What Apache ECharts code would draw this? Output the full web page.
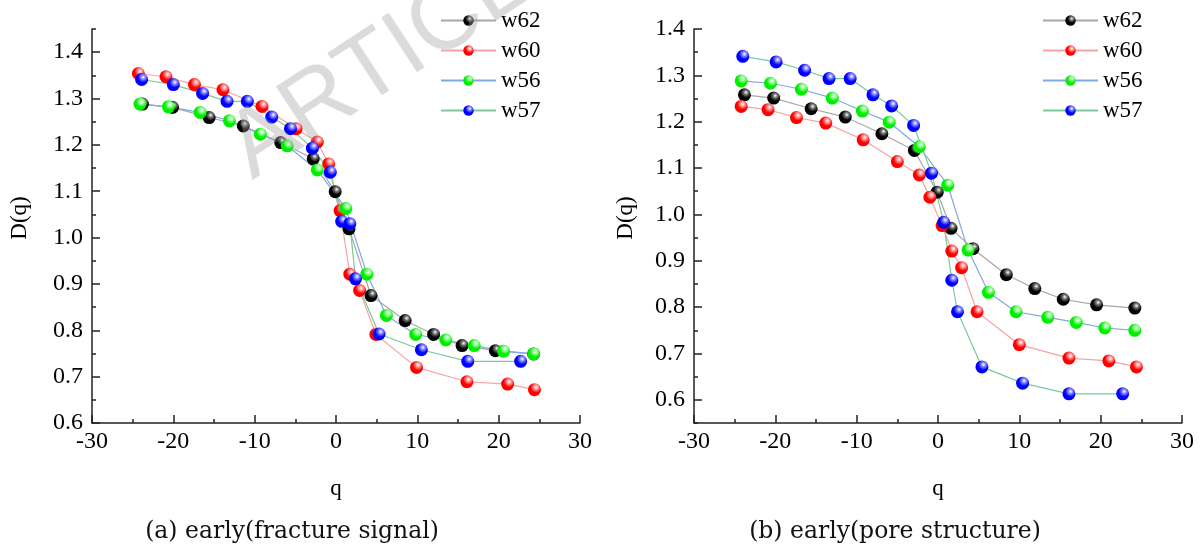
<!DOCTYPE html>
<html>
<head>
<meta charset="utf-8">
<script src="https://cdn.jsdelivr.net/npm/echarts@6/dist/echarts.min.js"></script>
<style>html,body{margin:0;padding:0;background:#fff}#c{width:1202px;height:546px}</style>
</head>
<body>
<div id="c"></div>
<script>
// ---- data: (a) early (fracture signal) ----
const seriesNames = ['w62', 'w60', 'w56', 'w57'];
const qA62 = [-23.8,-20.1,-15.6,-11.4,-6.8,-2.8,-0.1,1.6,4.3,8.5,12.0,15.5,19.6,24.3];
const dA62 = [1.288,1.281,1.259,1.241,1.205,1.170,1.099,1.019,0.875,0.821,0.791,0.767,0.756,0.749];
const qA60 = [-24.3,-20.9,-17.4,-13.9,-9.1,-4.9,-2.3,-0.9,0.5,1.7,2.9,4.9,9.9,16.1,21.1,24.4];
const dA60 = [1.354,1.347,1.330,1.319,1.283,1.235,1.206,1.159,1.058,0.921,0.886,0.791,0.720,0.689,0.684,0.672];
const qA56 = [-24.1,-20.6,-16.7,-13.1,-9.3,-6.0,-2.3,1.2,3.8,6.2,9.8,13.5,17.0,20.6,24.3];
const dA56 = [1.288,1.282,1.270,1.252,1.223,1.198,1.146,1.063,0.921,0.832,0.791,0.779,0.767,0.755,0.749];
const qA57 = [-23.9,-20.0,-16.4,-13.4,-10.9,-7.9,-5.6,-2.9,-0.7,0.7,1.7,2.4,5.3,10.5,16.2,22.7];
const dA57 = [1.341,1.330,1.311,1.294,1.294,1.260,1.235,1.193,1.141,1.035,1.030,0.911,0.792,0.758,0.733,0.733];

// ---- data: (b) early (pore structure) ----
const qB62 = [-23.8,-20.2,-15.6,-11.4,-6.9,-2.9,-0.1,1.6,4.3,8.4,11.9,15.4,19.5,24.2];
const dB62 = [1.258,1.251,1.228,1.210,1.174,1.138,1.048,0.970,0.926,0.870,0.840,0.817,0.805,0.798];
const qB60 = [-24.2,-20.9,-17.4,-13.8,-9.2,-5.0,-2.3,-1.0,0.5,1.7,2.9,4.8,10.0,16.1,21.0,24.4];
const dB60 = [1.233,1.226,1.209,1.197,1.161,1.114,1.085,1.037,0.976,0.921,0.885,0.790,0.719,0.690,0.684,0.671];
const qB56 = [-24.2,-20.6,-16.8,-13.0,-9.3,-6.0,-2.3,1.2,3.7,6.2,9.6,13.5,17.0,20.5,24.2];
const dB56 = [1.288,1.283,1.270,1.251,1.223,1.199,1.146,1.063,0.923,0.832,0.790,0.778,0.767,0.755,0.750];
const qB57 = [-24.0,-19.9,-16.4,-13.4,-10.8,-8.0,-5.7,-3.0,-0.8,0.7,1.7,2.4,5.4,10.4,16.1,22.7];
const dB57 = [1.341,1.329,1.311,1.293,1.293,1.258,1.234,1.192,1.089,0.983,0.858,0.790,0.671,0.636,0.613,0.613];

// tick labels
const xTicks = [-30,-20,-10,0,10,20,30];
const yTicksA = [0.6,0.7,0.8,0.9,1.0,1.1,1.2,1.3,1.4];
const yMinorA = [0.65,0.75,0.85,0.95,1.05,1.15,1.25,1.35,1.45];
const yTicksB = [0.6,0.7,0.8,0.9,1.0,1.1,1.2,1.3,1.4];
const yMinorB = [0.55,0.65,0.75,0.85,0.95,1.05,1.15,1.25,1.35];
const captions = ['(a) early(fracture signal)', '(b) early(pore structure)'];
const xTitle = 'q', yTitle = 'D(q)', watermark = 'ARTICLE';

// ---- styles ----
const markerBase = {w62:['#000000','#777777'], w60:['#ff0000','#ff9a9a'], w56:['#00ee00','#9dff9d'], w57:['#0000ff','#8a8aff']};
const lineColor = {w62:'#a8a8a8', w60:'#f7a3a3', w56:'#7ea9e3', w57:'#7cc99c'};
function sphere(name){
  const c = markerBase[name][0];
  return {type:'radial', x:0.62, y:0.32, r:0.75, colorStops:[
    {offset:0, color:'#ffffff'}, {offset:0.22, color:markerBase[name][1]}, {offset:0.55, color:c}, {offset:1, color:c}]};
}
const FONT = '"Liberation Serif", "Times New Roman", Times, serif';
const zip = (a,b) => a.map((v,i)=>[v,b[i]]);

const panels = [
  {left:92, yMin:0.6, yMax:1.45, ticks:yTicksA, minor:yMinorA, yTitleX:20, data:{w62:zip(qA62,dA62), w60:zip(qA60,dA60), w56:zip(qA56,dA56), w57:zip(qA57,dA57)}},
  {left:694, yMin:0.55, yMax:1.4, ticks:yTicksB, minor:yMinorB, yTitleX:626, data:{w62:zip(qB62,dB62), w60:zip(qB60,dB60), w56:zip(qB56,dB56), w57:zip(qB57,dB57)}}
];

const grid=[], xAxis=[], yAxis=[], series=[], graphic=[];
panels.forEach((p,i)=>{
  grid.push({left:p.left, top:29, width:488, height:394});
  xAxis.push({type:'value', gridIndex:i, min:-30, max:30, interval:10, position:'bottom',
    name:xTitle, nameLocation:'middle', nameGap:54,
    nameTextStyle:{fontFamily:FONT, fontSize:23, color:'#000'},
    axisLine:{onZero:false, lineStyle:{color:'#222', width:1.5}},
    axisTick:{inside:true, length:8, lineStyle:{color:'#222', width:1.5}},
    minorTick:{show:true, splitNumber:2, length:4, lineStyle:{color:'#222', width:1.5}},
    axisLabel:{fontFamily:FONT, fontSize:24, color:'#000', margin:7},
    splitLine:{show:false}});
  yAxis.push({type:'value', gridIndex:i, min:p.yMin, max:p.yMax, position:'left', offset:0,
    axisLine:{show:true, onZero:false, lineStyle:{color:'#222', width:1.5}},
    axisTick:{inside:true, length:8, customValues:p.ticks, lineStyle:{color:'#222', width:1.5}},
    axisLabel:{fontFamily:FONT, fontSize:24, color:'#000', margin:9, customValues:p.ticks, formatter:v=>v.toFixed(1)},
    splitLine:{show:false}});
  yAxis.push({type:'value', gridIndex:i, min:p.yMin, max:p.yMax, position:'left', offset:0,
    axisLine:{show:false, onZero:false},
    axisTick:{show:true, inside:true, length:4, customValues:p.minor, lineStyle:{color:'#222', width:1.5}},
    axisLabel:{show:false}, splitLine:{show:false}});
  seriesNames.forEach(n=>{
    series.push({type:'line', name:n, xAxisIndex:i, yAxisIndex:i*2, data:p.data[n],
      symbol:'circle', symbolSize:13, smooth:false,
      lineStyle:{color:lineColor[n], width:1.2},
      itemStyle:{color:sphere(n), borderWidth:0},
      emphasis:{disabled:true}, animation:false, z:2});
  });
  graphic.push({type:'text', x:p.yTitleX, y:218, rotation:Math.PI/2,
    style:{text:yTitle, font:'23px "Liberation Serif"', fill:'#000', align:'center', verticalAlign:'middle'}, z:10});
});
graphic.push(
  {type:'text', x:292, y:532, style:{text:captions[0], font:'23.5px "DejaVu Serif"', fill:'#111', align:'center', verticalAlign:'middle'}, z:10},
  {type:'text', x:895, y:532, style:{text:captions[1], font:'23.5px "DejaVu Serif"', fill:'#111', align:'center', verticalAlign:'middle'}, z:10},
  {type:'text', x:264, y:198, rotation:0.58, style:{text:watermark, font:'95px "Liberation Sans"', fill:'rgba(160,160,160,0.38)', align:'left', verticalAlign:'bottom'}, z:100}
);

const legendCommon = {orient:'vertical', top:4, itemWidth:55, itemHeight:13, itemGap:7,
  textStyle:{fontFamily:FONT, fontSize:23, color:'#000'}, data:seriesNames, selectedMode:false};

const chart = echarts.init(document.getElementById('c'), null, {renderer:'canvas'});
chart.setOption({
  animation:false,
  backgroundColor:'#fff',
  grid, xAxis, yAxis, series, graphic,
  legend:[Object.assign({left:435}, legendCommon), Object.assign({left:1037}, legendCommon)]
});
</script>
</body>
</html>
